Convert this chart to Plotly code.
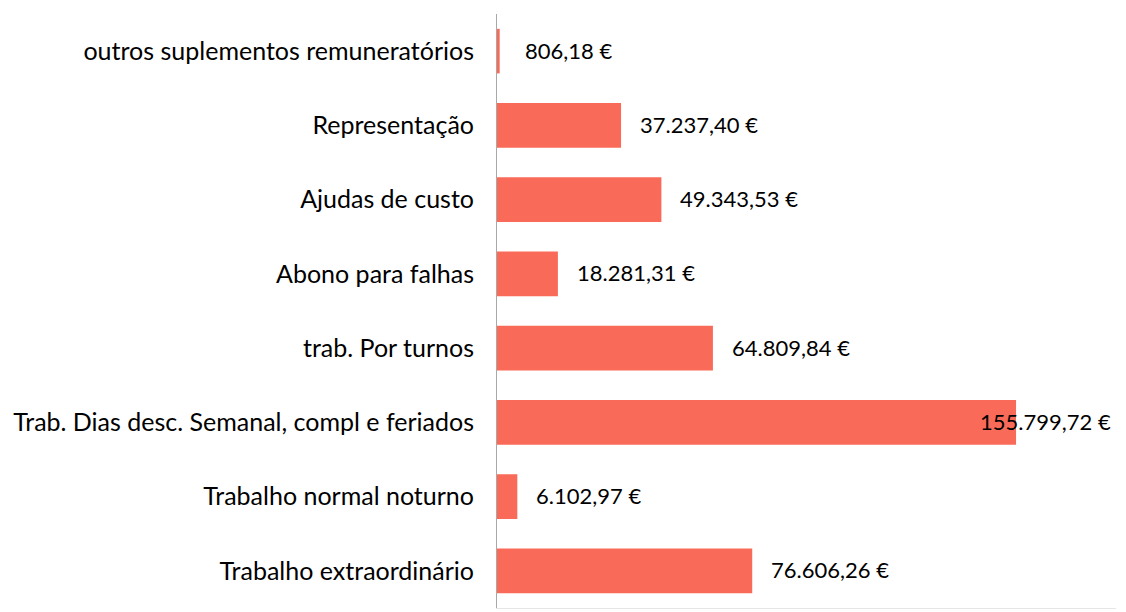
import plotly.graph_objects as go

categories = [
    "outros suplementos remuneratórios",
    "Representação",
    "Ajudas de custo",
    "Abono para falhas",
    "trab. Por turnos",
    "Trab. Dias desc. Semanal, compl e feriados",
    "Trabalho normal noturno",
    "Trabalho extraordinário",
]
values = [806.18, 37237.40, 49343.53, 18281.31, 64809.84, 155799.72, 6102.97, 76606.26]


def fmt_eur(v):
    s = f"{v:,.2f}"
    s = s.replace(",", "X").replace(".", ",").replace("X", ".")
    return s + " €"


labels = [fmt_eur(v) for v in values]

BAR = "#F96B58"
FONT = "Lato"

fig = go.Figure(
    go.Bar(
        x=values,
        y=categories,
        orientation="h",
        marker=dict(color=BAR, line=dict(width=0)),
        width=0.6,
        hoverinfo="skip",
    )
)

vmax = max(values)
vmin = min(values)
for cat, v, lab in zip(categories, values, labels):
    if v == vmax:
        shift = -38
    elif v == vmin:
        shift = 23
    else:
        shift = 17
    fig.add_annotation(
        x=v, y=cat, xref="x", yref="y",
        text=lab, showarrow=False,
        xanchor="left", yanchor="middle",
        xshift=shift, yshift=1,
        font=dict(family=FONT, size=22, color="#000000"),
    )

fig.update_layout(
    width=1118,
    height=604,
    margin=dict(l=489, r=10, t=6, b=4),
    paper_bgcolor="white",
    plot_bgcolor="white",
    showlegend=False,
    font=dict(family=FONT, size=20, color="#000000"),
)
fig.update_xaxes(
    range=[0, 185800],
    showgrid=False,
    zeroline=False,
    showticklabels=False,
    ticks="",
    showline=True,
    linecolor="#E6E6E6",
    linewidth=1,
)
fig.update_yaxes(
    autorange="reversed",
    showgrid=False,
    zeroline=False,
    showline=True,
    linecolor="#A8A8A8",
    linewidth=1,
    ticks="",
    ticklabelstandoff=17,
    tickfont=dict(family=FONT, size=25, color="#000000"),
    automargin=False,
)

fig.write_html("out.html")
